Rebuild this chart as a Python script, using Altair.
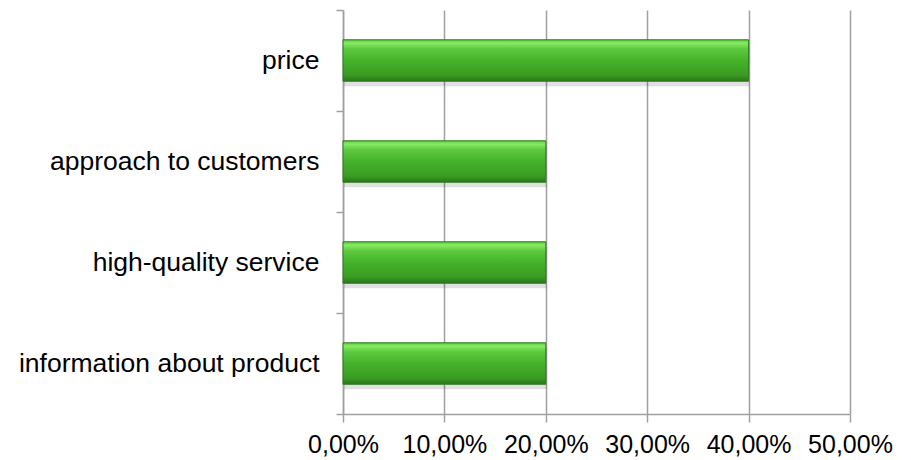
import altair as alt
import pandas as pd

categories = ["price", "approach to customers", "high-quality service", "information about product"]
values = [0.40, 0.20, 0.20, 0.20]
x_ticks = [0.0, 0.1, 0.2, 0.3, 0.4, 0.5]

df = pd.DataFrame({"category": categories, "value": values})

grad = alt.Gradient(
    gradient="linear",
    stops=[
        alt.GradientStop(color="#5cc83c", offset=0),
        alt.GradientStop(color="#86ec64", offset=0.08),
        alt.GradientStop(color="#5cc93f", offset=0.22),
        alt.GradientStop(color="#45b22b", offset=0.5),
        alt.GradientStop(color="#3a9c22", offset=0.85),
        alt.GradientStop(color="#2a7618", offset=1),
    ],
    x1=0, x2=0, y1=0, y2=1,
)

y_enc = alt.Y(
    "category:N",
    sort=categories,
    scale=alt.Scale(paddingInner=0, paddingOuter=0),
    axis=alt.Axis(
        title=None,
        tickBand="extent",
        tickSize=7,
        tickColor="#a0a0a0",
        tickWidth=1.5,
        domainColor="#a0a0a0",
        domainWidth=1.5,
        labelFont="Liberation Sans",
        labelFontSize=26.5,
        labelColor="#000000",
        labelPadding=17,
        labelLimit=0,
        grid=False,
    ),
)

x_enc = alt.X(
    "value:Q",
    scale=alt.Scale(domain=[0, 0.5], nice=False),
    axis=alt.Axis(
        title=None,
        values=x_ticks,
        labelExpr="replace(format(datum.value, '.2%'), '.', ',')",
        tickSize=8,
        tickColor="#a0a0a0",
        tickWidth=1.5,
        domainColor="#a0a0a0",
        domainWidth=1.5,
        gridColor="#a0a0a0",
        gridWidth=1.5,
        labelFont="Liberation Sans",
        labelFontSize=25,
        labelColor="#000000",
        labelPadding=10,
        labelFlush=False,
    ),
)

shadow = alt.Chart(df).mark_bar(
    color="#000000", opacity=0.12, yOffset=5, xOffset=1, height=alt.RelativeBandSize(0.41)
).encode(x=x_enc, y=y_enc)

bars = alt.Chart(df).mark_bar(
    color=grad, stroke="#2d7a1d", strokeWidth=1, height=alt.RelativeBandSize(0.41)
).encode(x=x_enc, y=y_enc)

chart = (
    alt.layer(shadow, bars)
    .properties(
        width=507,
        height=404,
        autosize=alt.AutoSizeParams(type="none"),
        padding={"left": 335, "top": 2, "right": 53, "bottom": 44},
    )
    .configure_view(stroke=None)
)

chart.save("out.html", embed_options={"renderer": "svg", "actions": False})
